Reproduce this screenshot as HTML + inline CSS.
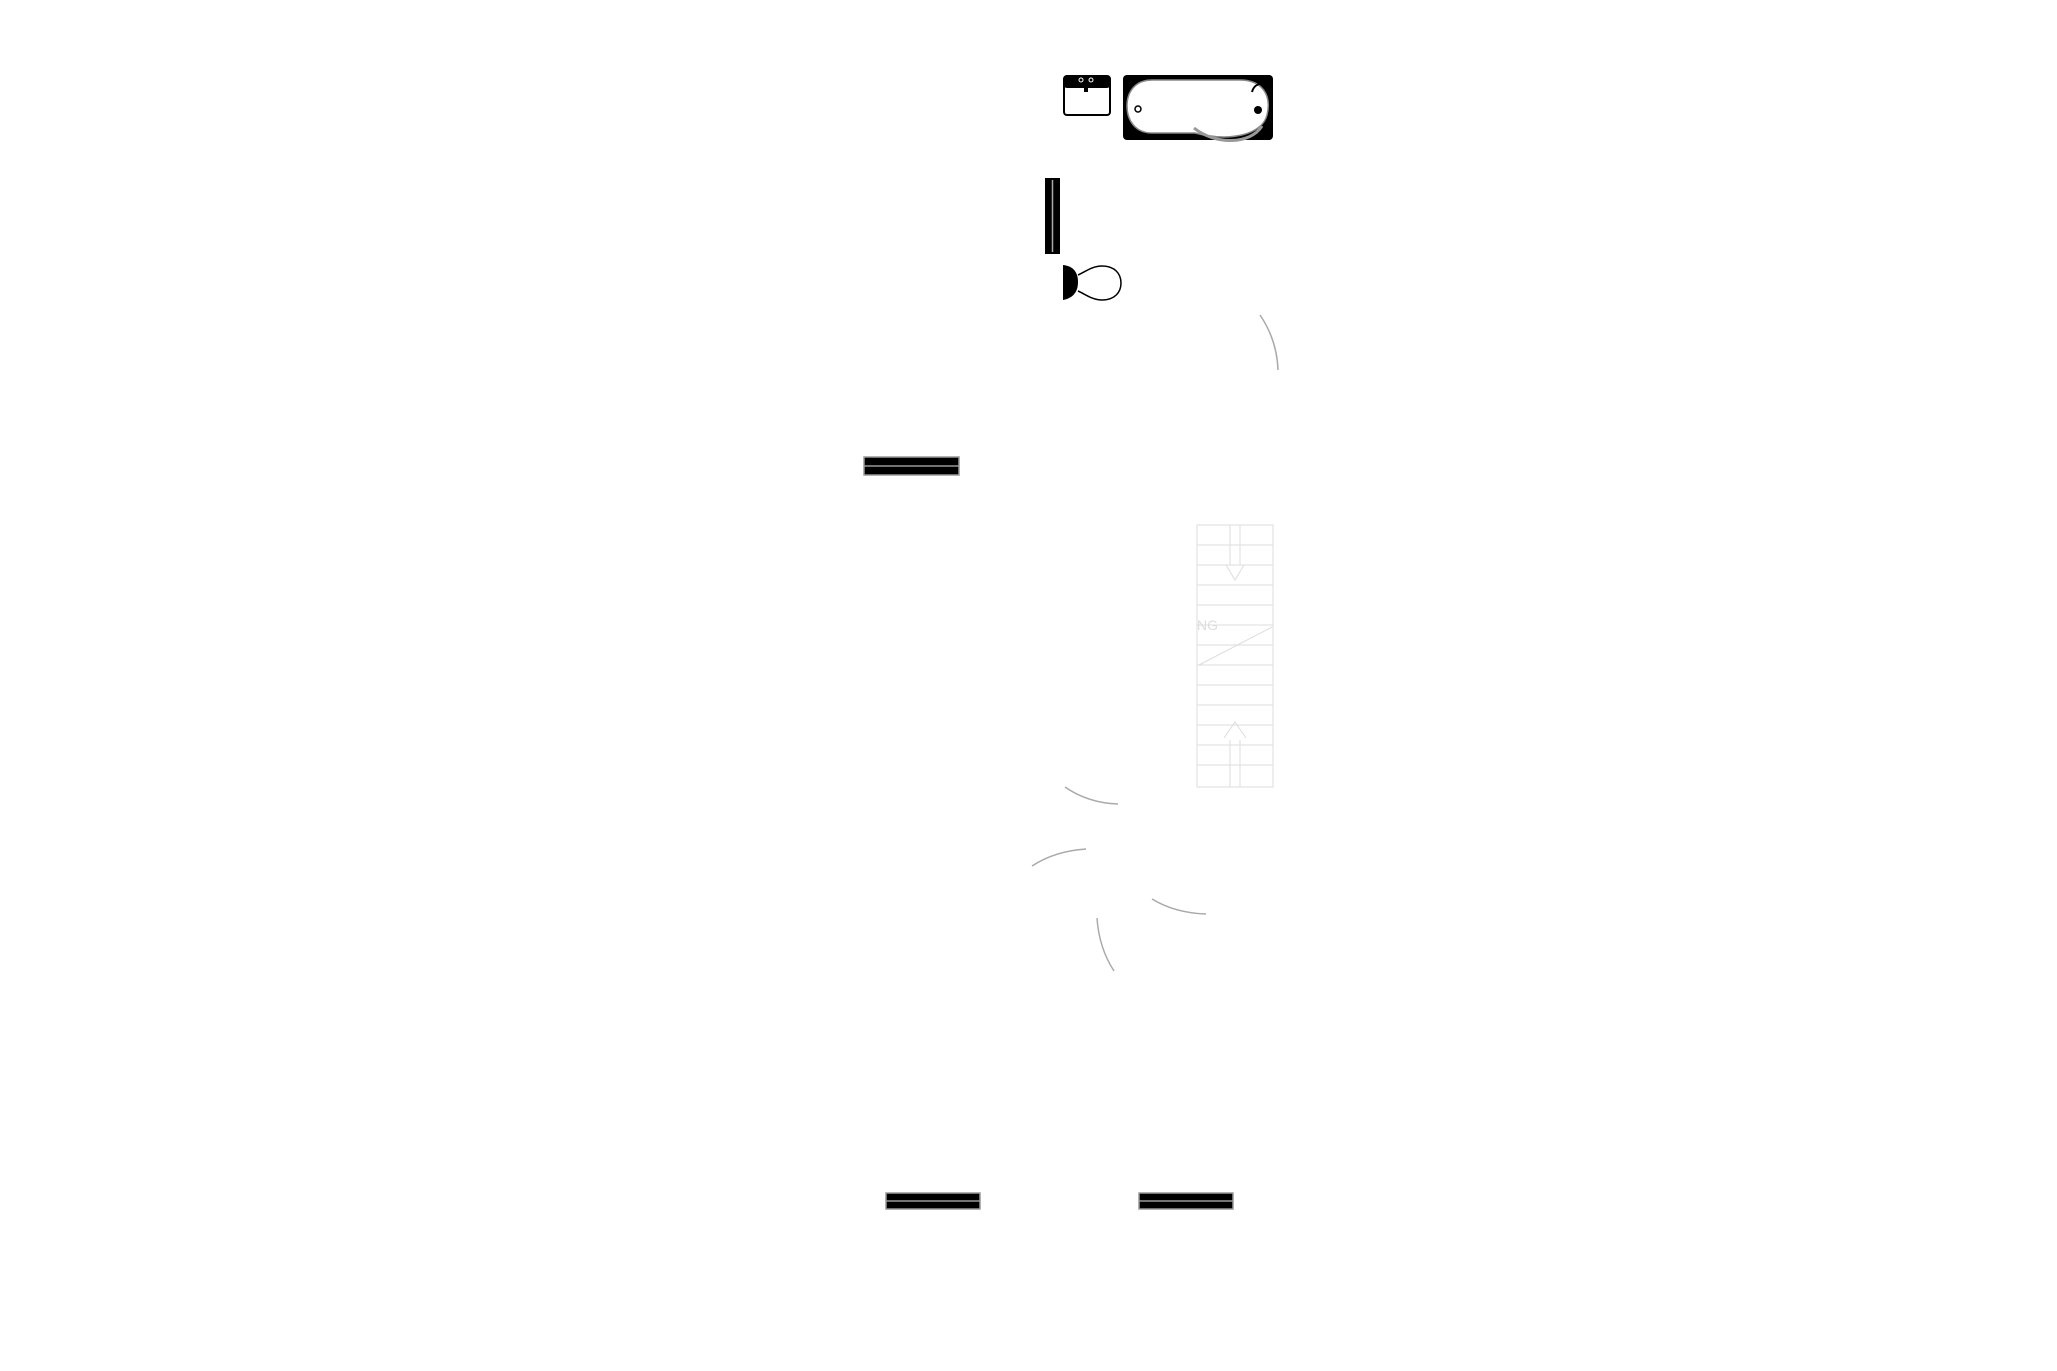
<!DOCTYPE html>
<html><head><meta charset="utf-8"><style>html,body{margin:0;padding:0;background:#fff;}svg{display:block}</style></head>
<body>
<svg width="2057" height="1371" viewBox="0 0 2057 1371" xmlns="http://www.w3.org/2000/svg">
<rect width="2057" height="1371" fill="#fff"/>
<!-- sink -->
<rect x="1064" y="76" width="46" height="39" rx="3" fill="#fff" stroke="#000" stroke-width="2"/>
<rect x="1064" y="76" width="46" height="12" rx="3" fill="#000"/>
<rect x="1084" y="80" width="4" height="12" fill="#000"/>
<circle cx="1081" cy="80" r="2" fill="none" stroke="#fff" stroke-width="1"/>
<circle cx="1091" cy="80" r="2" fill="none" stroke="#fff" stroke-width="1"/>
<!-- bath -->
<rect x="1123" y="75" width="150" height="65" rx="4" fill="#000"/>
<path d="M1152 80 H1240 C1262 80 1272 95 1267 115 C1262 135 1230 142 1195 133 L1152 133 C1135 133 1127 120 1127 106 C1127 92 1135 80 1152 80 Z" fill="#fff" stroke="#888" stroke-width="1.5"/>
<path d="M1194 128 C1215 145 1250 145 1262 126" fill="none" stroke="#999" stroke-width="3"/>
<circle cx="1138" cy="109" r="3" fill="none" stroke="#000" stroke-width="1.5"/>
<circle cx="1258" cy="110" r="4" fill="#000"/>
<path d="M1252 92 C1254 84 1262 82 1264 86" fill="none" stroke="#000" stroke-width="2"/>
<!-- radiator -->
<rect x="1045" y="178" width="15" height="76" fill="#000"/>
<line x1="1052.5" y1="180" x2="1052.5" y2="252" stroke="#aaa" stroke-width="1.5"/>
<!-- toilet -->
<path d="M1063 265 C1073 266 1078 272 1078 282 C1078 292 1073 298 1063 300 Z" fill="#000"/>
<path d="M1078 275 C1085 272 1092 266 1102 266 C1115 266 1121 274 1121 283 C1121 292 1115 300 1102 300 C1092 300 1085 294 1078 291" fill="#fff" stroke="#000" stroke-width="1.5"/>
<!-- bars -->
<g fill="#000" stroke="#999" stroke-width="1.5">
<rect x="864" y="457" width="95" height="18"/>
<rect x="886" y="1193" width="94" height="16"/>
<rect x="1139" y="1193" width="94" height="16"/>
</g>
<g stroke="#999" stroke-width="1.5">
<line x1="864" y1="466" x2="959" y2="466"/>
<line x1="886" y1="1201" x2="980" y2="1201"/>
<line x1="1139" y1="1201" x2="1233" y2="1201"/>
</g>
<!-- arcs -->
<g fill="none" stroke="#aaa" stroke-width="1.5">
<path d="M1260 315 Q1277 340 1278 370"/>
<path d="M1065 787 Q1088 803 1118 804"/>
<path d="M1032 866 Q1055 851 1086 849"/>
<path d="M1152 899 Q1175 913 1206 914"/>
<path d="M1097 918 Q1099 948 1114 971"/>
</g>
<!-- stairs (faint) -->
<g fill="none" stroke="#ddd" stroke-width="1">
<rect x="1197" y="525" width="76" height="262"/>
<line x1="1197" y1="545" x2="1273" y2="545"/>
<line x1="1197" y1="565" x2="1273" y2="565"/>
<line x1="1197" y1="585" x2="1273" y2="585"/>
<line x1="1197" y1="605" x2="1273" y2="605"/>
<line x1="1197" y1="625" x2="1273" y2="625"/>
<line x1="1197" y1="645" x2="1273" y2="645"/>
<line x1="1197" y1="665" x2="1273" y2="665"/>
<line x1="1197" y1="685" x2="1273" y2="685"/>
<line x1="1197" y1="705" x2="1273" y2="705"/>
<line x1="1197" y1="725" x2="1273" y2="725"/>
<line x1="1197" y1="745" x2="1273" y2="745"/>
<line x1="1197" y1="765" x2="1273" y2="765"/>
<line x1="1230" y1="525" x2="1230" y2="565"/>
<line x1="1240" y1="525" x2="1240" y2="565"/>
<line x1="1230" y1="740" x2="1230" y2="787"/>
<line x1="1240" y1="740" x2="1240" y2="787"/>
<polyline points="1226,565 1235,580 1244,565"/>
<polyline points="1224,738 1235,722 1246,738"/>
<line x1="1199" y1="665" x2="1272" y2="627"/>
</g>
<text x="1197" y="630" font-family="Liberation Sans, sans-serif" font-size="14" fill="#ddd">NG</text>
</svg>
</body></html>
